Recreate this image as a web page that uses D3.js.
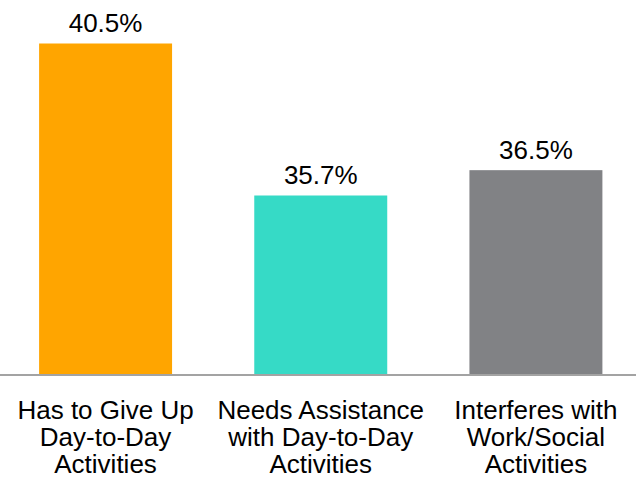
<!DOCTYPE html>
<html>
<head>
<meta charset="utf-8">
<script src="https://cdn.jsdelivr.net/npm/d3@7"></script>
<style>
  html, body { margin: 0; padding: 0; background: #fff; }
  svg { display: block; font-family: "Liberation Sans", Arial, sans-serif; }
</style>
</head>
<body>
<div id="chart"></div>
<script>
const categories = [
  ["Has to Give Up", "Day-to-Day", "Activities"],
  ["Needs Assistance", "with Day-to-Day", "Activities"],
  ["Interferes with", "Work/Social", "Activities"]
];
const values = [40.5, 35.7, 36.5];
const colors = ["#FFA500", "#36DAC6", "#818285"];

const width = 636;
const height = 478;

const svg = d3.select("#chart")
  .append("svg")
  .attr("width", width)
  .attr("height", height);

const keys = categories.map((d, i) => i);

const xScale = d3.scaleBand()
  .domain(keys)
  .range([-2, 643.5])
  .paddingInner(0.382)
  .paddingOuter(0.191);

const yScale = d3.scaleLinear()
  .domain([30, 42])
  .range([376, -4]);

// bars
svg.selectAll("rect.bar")
  .data(values)
  .join("rect")
  .attr("class", "bar")
  .attr("x", (d, i) => xScale(i))
  .attr("y", (d) => yScale(d))
  .attr("width", xScale.bandwidth())
  .attr("height", (d) => yScale(30) - yScale(d))
  .attr("fill", (d, i) => colors[i]);

// value labels
svg.selectAll("text.value")
  .data(values)
  .join("text")
  .attr("class", "value")
  .attr("x", (d, i) => xScale(i) + xScale.bandwidth() / 2)
  .attr("y", (d) => yScale(d) - 11.5)
  .attr("text-anchor", "middle")
  .attr("font-size", 26)
  .attr("fill", "#000")
  .text((d) => d.toFixed(1) + "%");

// baseline
svg.append("line")
  .attr("x1", 0)
  .attr("x2", width)
  .attr("y1", yScale(30) - 1)
  .attr("y2", yScale(30) - 1)
  .attr("stroke", "#a3a3a3")
  .attr("stroke-width", 2);

// category labels
const labels = svg.selectAll("text.cat")
  .data(categories)
  .join("text")
  .attr("class", "cat")
  .attr("text-anchor", "middle")
  .attr("font-size", 26)
  .attr("fill", "#000");

labels.selectAll("tspan")
  .data((d, i) => d.map((line) => ({ line, i })))
  .join("tspan")
  .attr("x", (d) => xScale(d.i) + xScale.bandwidth() / 2)
  .attr("y", (d, j) => 418.5 + j * 27.4)
  .text((d) => d.line);
</script>
</body>
</html>
